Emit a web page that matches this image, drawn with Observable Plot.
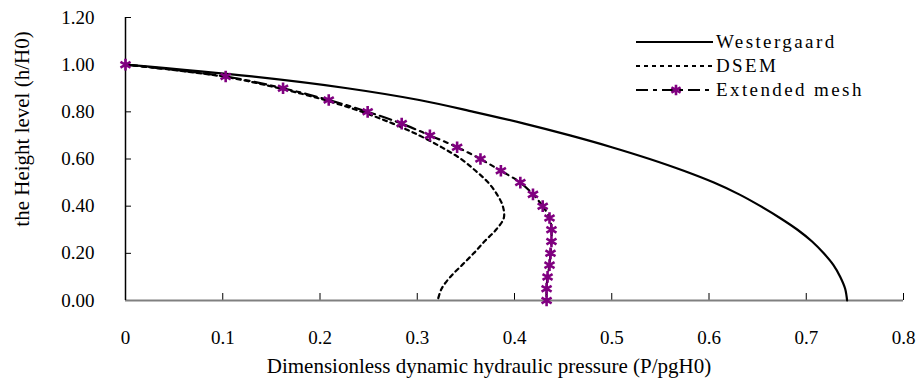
<!DOCTYPE html>
<html><head><meta charset="utf-8">
<script src="https://cdn.jsdelivr.net/npm/d3@7"></script>
<script src="https://cdn.jsdelivr.net/npm/@observablehq/plot@0.6"></script>
<style>
body{margin:0;background:#fff;}
#wrap{position:relative;width:920px;height:383px;font-family:"Liberation Serif","Times New Roman",serif;color:#000;overflow:hidden;}
#wrap svg{display:block;}
#wrap svg text{font-family:"Liberation Serif","Times New Roman",serif;}
.ttl{position:absolute;font-size:21px;white-space:nowrap;}
#xt{left:489px;top:366px;transform:translate(-50%,-50%);}
#yt{left:22px;top:129px;transform:translate(-50%,-50%) rotate(-90deg);}
#legend{position:absolute;left:636px;top:30px;}
.row{height:24px;display:flex;align-items:center;}
.row span{font-family:"Liberation Serif","Times New Roman",serif;font-size:19px;letter-spacing:2.4px;margin-left:3px;}
</style></head><body><div id="wrap"></div>
<script>
const heights = [1.00,0.95,0.90,0.85,0.80,0.75,0.70,0.65,0.60,0.55,0.50,0.45,0.40,0.35,0.30,0.25,0.20,0.15,0.10,0.05,0.00];
const westergaard = [0,0.130,0.228,0.302,0.358,0.410,0.457,0.500,0.539,0.574,0.605,0.631,0.653,0.673,0.691,0.706,0.718,0.728,0.735,0.740,0.742];
const dsem = [0,0.100,0.158,0.205,0.243,0.275,0.302,0.325,0.345,0.360,0.373,0.382,0.388,0.389,0.381,0.369,0.358,0.346,0.334,0.325,0.321];
const extendedMesh = [0,0.103,0.162,0.209,0.249,0.284,0.313,0.341,0.365,0.386,0.406,0.419,0.429,0.436,0.438,0.438,0.437,0.436,0.434,0.433,0.433];
const xTicks = [0,0.1,0.2,0.3,0.4,0.5,0.6,0.7,0.8];
const yTicks = [0,0.2,0.4,0.6,0.8,1.0,1.2];
const seriesNames = ["Westergaard","DSEM","Extended mesh"];
const xTitle = "Dimensionless dynamic hydraulic pressure (P/pgH0)";
const yTitle = "the Height level (h/H0)";

const rows = vals => heights.map((h,i)=>({h, p: vals[i]}));
const W = rows(westergaard), D = rows(dsem), E = rows(extendedMesh);

const width = 920, height = 383, mL = 125, mR = 17, mT = 17, mB = 83;
const pw = width - mL - mR, ph = height - mT - mB;
const serif = "'Liberation Serif', 'Times New Roman', serif";

const styles = [
  {stroke:"#000", strokeWidth:2.2, strokeDasharray:null},
  {stroke:"#000", strokeWidth:2.2, strokeDasharray:"4,4"},
  {stroke:"#000", strokeWidth:2.2, strokeDasharray:"12,5,4,5"}
];

const chart = Plot.plot({
  width, height, marginLeft:mL, marginRight:mR, marginTop:mT, marginBottom:mB,
  style:{fontFamily:serif, fontSize:"19px", color:"#000", background:"#fff", overflow:"visible"},
  x:{domain:[0,0.8]},
  y:{domain:[0,1.2]},
  marks:[
    Plot.axisX(xTicks, {tickSize:0, tickPadding:30, tickFormat:d=>d===0?"0":d3.format(".1f")(d), label:null, fontSize:19, fontFamily:serif, letterSpacing:"2px"}),
    Plot.axisY(yTicks, {tickSize:0, tickPadding:31, tickFormat:d3.format(".2f"), label:null, fontSize:19, fontFamily:serif, letterSpacing:"2px"}),
    Plot.tickX(xTicks.slice(1), {x:d=>d, insetTop:ph-7, stroke:"#000", strokeWidth:1}),
    Plot.tickY(yTicks.slice(1), {y:d=>d, insetRight:pw-6, stroke:"#000", strokeWidth:1}),
    Plot.ruleY([0], {stroke:"#808080", strokeWidth:2}),
    Plot.ruleX([0], {stroke:"#000", strokeWidth:1.5}),
    Plot.line(W, {x:"p", y:"h", curve:"catmull-rom", ...styles[0]}),
    Plot.line(D, {x:"p", y:"h", curve:"catmull-rom", ...styles[1]}),
    Plot.line(E, {x:"p", y:"h", curve:"catmull-rom", ...styles[2]}),
    Plot.dot(E, {x:"p", y:"h", symbol:"asterisk", r:5.5, stroke:"#800080", strokeWidth:2.6})
  ]
});

const wrap = document.getElementById("wrap");
wrap.appendChild(chart);

const xt = document.createElement("div"); xt.className="ttl"; xt.id="xt"; xt.textContent=xTitle; wrap.appendChild(xt);
const yt = document.createElement("div"); yt.className="ttl"; yt.id="yt"; yt.textContent=yTitle; wrap.appendChild(yt);

const leg = document.createElement("div"); leg.id="legend";
seriesNames.forEach((name,i)=>{
  const row = document.createElement("div"); row.className="row";
  const s = d3.create("svg").attr("width",77).attr("height",12);
  s.append("line").attr("x1",0).attr("x2",77).attr("y1",6).attr("y2",6)
    .attr("stroke",styles[i].stroke).attr("stroke-width",styles[i].strokeWidth)
    .attr("stroke-dasharray",styles[i].strokeDasharray);
  if(i===2){
    s.append("path").attr("d",d3.symbol(d3.symbolAsterisk, 80)()).attr("transform","translate(40,6)")
      .attr("stroke","#800080").attr("stroke-width",2.6).attr("fill","none");
  }
  row.appendChild(s.node());
  const t = document.createElement("span"); t.textContent=name; row.appendChild(t);
  leg.appendChild(row);
});
wrap.appendChild(leg);
</script></body></html>
